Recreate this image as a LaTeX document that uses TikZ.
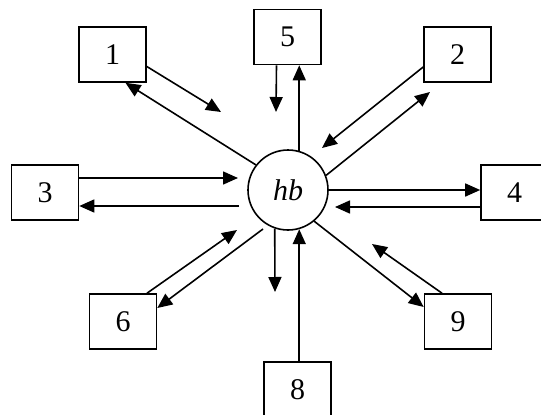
\documentclass[tikz,border=0pt]{standalone}
\usepackage{fontspec}
\setmainfont{Liberation Serif}
\usetikzlibrary{arrows.meta,calc}
\begin{document}
\begin{tikzpicture}[x=1pt,y=-1pt,
  line width=1.6pt,
  every node/.style={font=\fontsize{30}{34}\selectfont},
  unit/.style={draw,rectangle,minimum width=67pt,minimum height=55pt,inner sep=0pt},
  hub/.style={draw,circle,minimum size=80pt,inner sep=0pt},
  arr/.style={-{Triangle[length=15pt,width=13pt]}}]
\useasboundingbox (0,0) rectangle (541,415);

% hub and the surrounding units
\node[hub] (hb) at (288,190) {\textit{hb}};
\node[unit] (b1) at (112.5,54.5) {1};
\node[unit] (b5) at (287.5,37)   {5};
\node[unit] (b2) at (457.5,54.5) {2};
\node[unit] (b3) at (45,192.5)   {3};
\node[unit] (b4) at (514.5,192.5){4};
\node[unit] (b6) at (123,321.5)  {6};
\node[unit] (b9) at (458,321.5)  {9};
\node[unit] (b8) at (297.5,389.5){8};

% free ends of the short arrows
\coordinate (e1) at (221,112);
\coordinate (e5) at (276,112);
\coordinate (e2) at (322,148);
\coordinate (e2b) at (430,92);
\coordinate (e3) at (238,178);
\coordinate (s3) at (239,206);
\coordinate (e4) at (335,207);
\coordinate (e6) at (237,230);
\coordinate (s6) at (263,229);
\coordinate (e7) at (275,292);
\coordinate (e9) at (372,244);

% unit 1
\draw[arr] ($(b1.east)+(0,12)$) -- (e1);
\draw[arr] (hb.142) -- ($(b1.south)+(13,0)$);
% unit 5
\draw[arr] ($(b5.south)+(-11,0)$) -- (e5);
\draw[arr] (hb.74) -- (hb.74 |- b5.south);
% unit 2
\draw[arr] ($(b2.west)+(0,12.5)$) -- (e2);
\draw[arr] (hb.21) -- (e2b);
% unit 3
\draw[arr] ($(b3.east)+(0,-14.5)$) -- (e3);
\draw[arr] (s3) -- ($(b3.east)+(0,13.5)$);
% unit 4
\draw[arr] (hb.east) -- (hb.east -| b4.west);
\draw[arr] ($(b4.west)+(0,14.5)$) -- (e4);
% unit 6
\draw[arr] ($(b6.north)+(24,0)$) -- (e6);
\draw[arr] (s6) -- ($(b6.east)+(0,-13.5)$);
% outflow below the hub
\draw[arr] (hb.251) -- (e7);
% unit 8
\draw[arr] (hb.286 |- b8.north) -- (hb.286);
% unit 9
\draw[arr] (hb.310) -- ($(b9.west)+(0,-14.5)$);
\draw[arr] ($(b9.north)+(-16,0)$) -- (e9);
\end{tikzpicture}
\end{document}
